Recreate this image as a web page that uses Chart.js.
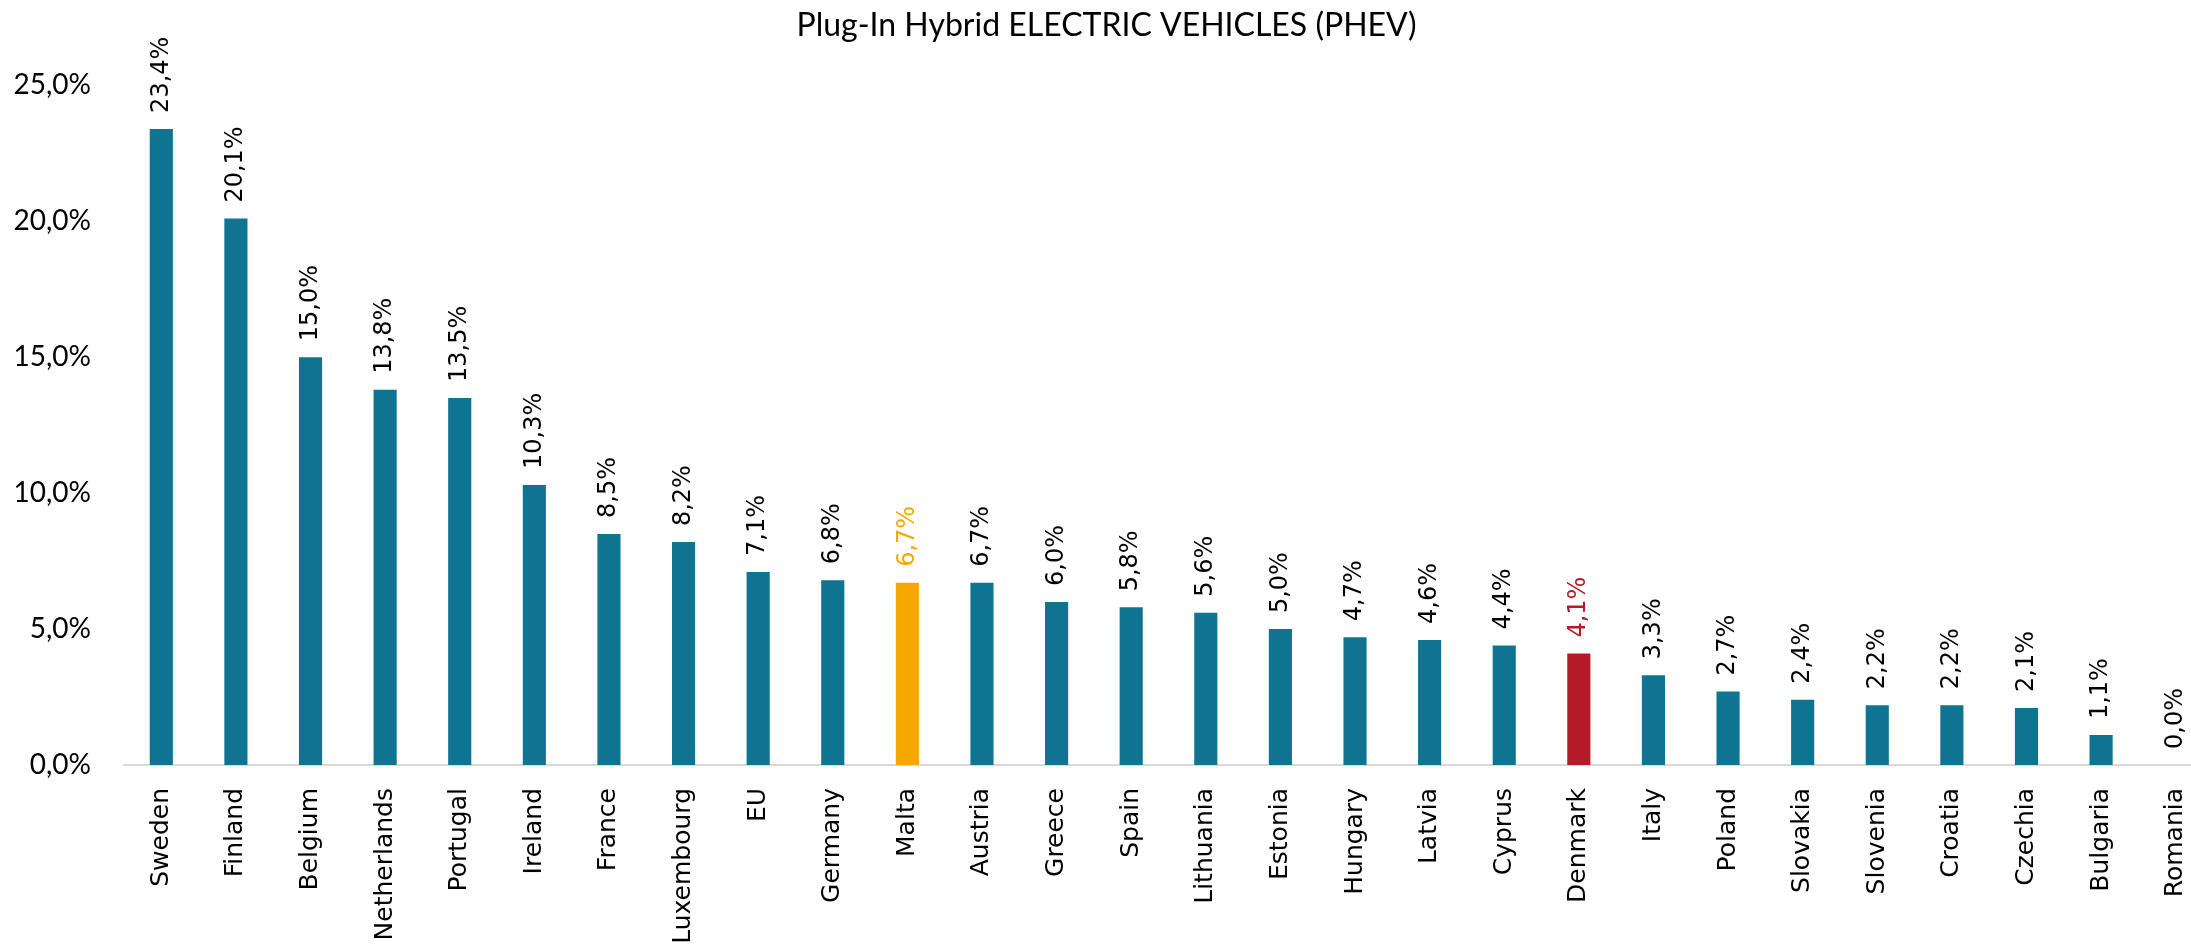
<!DOCTYPE html>
<html>
<head>
<meta charset="utf-8">
<script src="https://cdn.jsdelivr.net/npm/chart.js@4"></script>
<style>
  html, body { margin: 0; padding: 0; background: #fff; overflow: hidden; }
  #phevChart { display: block; }
</style>
</head>
<body>
<canvas id="phevChart" width="2213" height="946"></canvas>
<script>
const countries = ['Sweden', 'Finland', 'Belgium', 'Netherlands', 'Portugal', 'Ireland', 'France',
    'Luxembourg', 'EU', 'Germany', 'Malta', 'Austria', 'Greece', 'Spain', 'Lithuania', 'Estonia',
    'Hungary', 'Latvia', 'Cyprus', 'Denmark', 'Italy', 'Poland', 'Slovakia', 'Slovenia', 'Croatia',
    'Czechia', 'Bulgaria', 'Romania'];
const phevShare = [23.4, 20.1, 15.0, 13.8, 13.5, 10.3, 8.5, 8.2, 7.1, 6.8, 6.7, 6.7, 6.0, 5.8, 5.6,
    5.0, 4.7, 4.6, 4.4, 4.1, 3.3, 2.7, 2.4, 2.2, 2.2, 2.1, 1.1, 0.0];
const yTicks = [0, 5, 10, 15, 20, 25];

const baseColor = '#0E7491';
const highlight = { 'Malta': '#F6A800', 'Denmark': '#B31B29' };

const fmt = v => v.toFixed(1).replace('.', ',') + '%';
const barColor = c => highlight[c] || baseColor;
const labelColor = c => highlight[c] || '#000';

// value labels rotated above each bar
const barLabels = {
    id: 'barLabels',
    afterDatasetsDraw(chart) {
        const ctx = chart.ctx;
        const meta = chart.getDatasetMeta(0);
        ctx.save();
        ctx.font = '24px "DejaVu Sans"';
        ctx.textAlign = 'left';
        ctx.textBaseline = 'middle';
        meta.data.forEach((bar, i) => {
            ctx.save();
            ctx.translate(bar.x, bar.y - 16);
            ctx.rotate(-Math.PI / 2);
            ctx.fillStyle = labelColor(countries[i]);
            ctx.fillText(fmt(phevShare[i]), 0, 0);
            ctx.restore();
        });
        ctx.restore();
    }
};

const config = {
    type: 'bar',
    data: {
        labels: countries,
        datasets: [{
            data: phevShare,
            backgroundColor: countries.map(barColor),
            categoryPercentage: 1,
            barPercentage: 0.31
        }]
    },
    options: {
        responsive: false,
        animation: false,
        layout: { padding: 0 },
        plugins: {
            legend: { display: false },
            tooltip: { enabled: false },
            title: {
                display: true,
                text: 'Plug-In Hybrid ELECTRIC VEHICLES (PHEV)',
                color: '#000',
                font: { family: 'Lato', size: 32, weight: 'normal' },
                padding: { top: 6, bottom: 41 }
            }
        },
        scales: {
            x: {
                grid: { display: false, drawTicks: false },
                border: { display: true, color: '#d9d9d9', width: 2 },
                ticks: {
                    color: '#000',
                    font: { family: 'DejaVu Sans', size: 25 },
                    minRotation: 90,
                    maxRotation: 90,
                    autoSkip: false,
                    padding: 23
                },
                afterFit(scale) {
                    scale.height = 181;
                    scale.paddingLeft = 0;
                    scale.paddingRight = 0;
                }
            },
            y: {
                min: 0,
                max: 25,
                grid: { display: false, drawTicks: false },
                border: { display: false },
                afterBuildTicks(scale) { scale.ticks = yTicks.map(v => ({ value: v })); },
                ticks: {
                    color: '#000',
                    font: { family: 'Lato', size: 28 },
                    padding: 33,
                    callback: v => fmt(v)
                },
                afterFit(scale) { scale.width = 124; }
            }
        }
    },
    plugins: [barLabels]
};

const phevChart = new Chart(document.getElementById('phevChart'), config);
</script>
</body>
</html>
